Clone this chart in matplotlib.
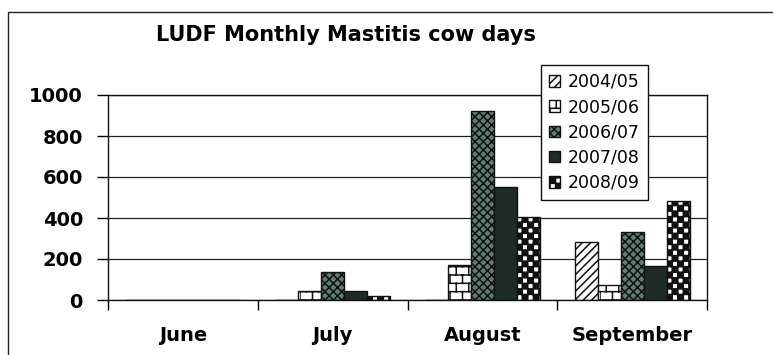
import warnings
import numpy as np
import matplotlib
matplotlib.use("Agg")
import matplotlib.pyplot as plt
import matplotlib.hatch as mhatch
from matplotlib.path import Path
from matplotlib.patches import Rectangle

warnings.filterwarnings("ignore")

months = ["June", "July", "August", "September"]
seasons = ["2004/05", "2005/06", "2006/07", "2007/08", "2008/09"]
v_2004 = [0, 0, 0, 285]
v_2005 = [0, 45, 171, 73]
v_2006 = [0, 138, 923, 333]
v_2007 = [0, 45, 551, 166]
v_2008 = [0, 20, 403, 484]
y_ticks = [0, 200, 400, 600, 800, 1000]


class BrickHatch(mhatch.HatchPatternBase):
    """Staggered brick wall, used with the letter 'b'."""

    def __init__(self, hatch, density):
        self.rows = int(hatch.count('b') * density)
        self.cols = max(self.rows * 2 // 3, 1)
        self.num_vertices = self.rows * (2 + 2 * self.cols)

    def set_vertices_and_codes(self, vertices, codes):
        n = 0
        for i in range(self.rows):
            y0 = i / self.rows
            y1 = (i + 1) / self.rows
            vertices[n] = (0, y0)
            vertices[n + 1] = (1, y0)
            codes[n] = Path.MOVETO
            codes[n + 1] = Path.LINETO
            n += 2
            shift = 0.5 * (i % 2)
            for k in range(self.cols):
                x = ((k + shift) / self.cols) % 1.0
                vertices[n] = (x, y0)
                vertices[n + 1] = (x, y1)
                codes[n] = Path.MOVETO
                codes[n + 1] = Path.LINETO
                n += 2


class CheckerHatch(mhatch.HatchPatternBase):
    """Filled checkerboard, used with the letter 'c'."""

    def __init__(self, hatch, density):
        self.n = int(hatch.count('c') * density)
        self.n += self.n % 2
        self.num_vertices = (self.n * self.n // 2) * 5

    def set_vertices_and_codes(self, vertices, codes):
        s = 1.0 / max(self.n, 1)
        m = 0
        for i in range(self.n):
            for k in range(self.n):
                if (i + k) % 2:
                    continue
                x, y = k * s, i * s
                vertices[m:m + 5] = [(x, y), (x + s, y), (x + s, y + s),
                                     (x, y + s), (x, y)]
                codes[m:m + 5] = [Path.MOVETO, Path.LINETO, Path.LINETO,
                                  Path.LINETO, Path.CLOSEPOLY]
                m += 5


mhatch._hatch_types.append(BrickHatch)
mhatch._hatch_types.append(CheckerHatch)

plt.rcParams['font.family'] = ['DejaVu Sans']
plt.rcParams['hatch.linewidth'] = 1.1

fig = plt.figure(figsize=(7.73, 3.55), dpi=100)
ax = fig.add_axes([108 / 773, 55 / 355, 599 / 773, 205 / 355])

series = [v_2004, v_2005, v_2006, v_2007, v_2008]
styles = [
    dict(facecolor='white', hatch='////'),
    dict(facecolor='white', hatch='bb'),
    dict(facecolor='#5f7d73', hatch='xxxx'),
    dict(facecolor='#1e2b26', hatch=None),
    dict(facecolor='white', hatch='ccc'),
]

x = np.arange(len(months))
w = 1 / 6.5
for j, (vals, st) in enumerate(zip(series, styles)):
    ax.bar(x + (j - 2) * w, vals, width=w, edgecolor='#111111',
           linewidth=1.0, label=seasons[j], **st)

ax.set_xlim(-0.5, len(months) - 0.5)
ax.set_ylim(0, 1000)
ax.set_yticks(y_ticks)
ax.set_xticks(x)
ax.set_xticklabels(months, fontsize=14, fontweight='bold')
ax.set_xticks(np.arange(len(months) + 1) - 0.5, minor=True)
ax.tick_params(axis='x', which='major', length=0, pad=19)
ax.tick_params(axis='x', which='minor', length=7, width=1, direction='out')
ax.tick_params(axis='y', length=8, width=1, direction='out', pad=10,
               labelsize=14)
for lab in ax.get_yticklabels():
    lab.set_fontweight('bold')

ax.grid(axis='y', color='#222222', linewidth=0.9)
ax.set_axisbelow(True)
for sp in ax.spines.values():
    sp.set_color('#111111')
    sp.set_linewidth(1.0)

fig.text(346 / 773, (355 - 41) / 355, "LUDF Monthly Mastitis cow days",
         ha='center', va='baseline', fontsize=15, fontweight='bold')

leg = ax.legend(loc='upper left', bbox_to_anchor=(541 / 773, (355 - 65) / 355),
                bbox_transform=fig.transFigure, borderaxespad=0,
                fontsize=12.5, handlelength=0.65, handleheight=0.65,
                handletextpad=0.45, labelspacing=0.42, borderpad=0.45,
                fancybox=False, framealpha=1, edgecolor='#111111')
leg.get_frame().set_linewidth(1.0)

# outer chart border (left and top edges visible in the scan)
fig.add_artist(Rectangle((8 / 773, -0.2), 1.2, 0.2 + (355 - 12) / 355,
                         transform=fig.transFigure, fill=False,
                         edgecolor='#222222', linewidth=1.0))

fig.savefig("out.png", dpi=100)
